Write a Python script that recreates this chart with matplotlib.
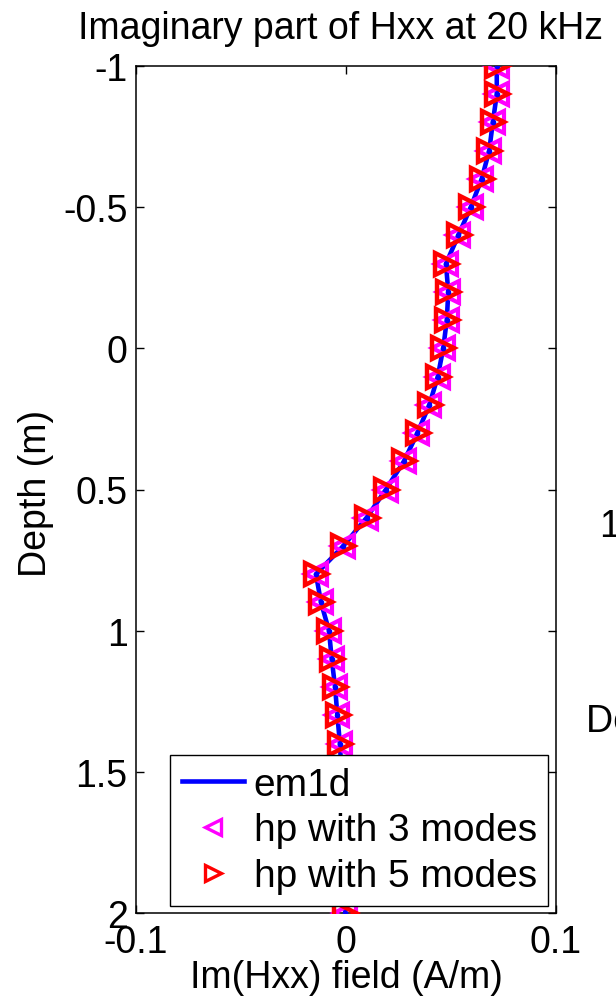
import matplotlib
matplotlib.use('Agg')
import matplotlib.pyplot as plt

plt.rcParams['font.family'] = ['Liberation Sans', 'DejaVu Sans']

# depth samples (m) and imaginary part of Hxx (A/m)
depth = [-1.0, -0.9, -0.8, -0.7, -0.6, -0.5, -0.4, -0.3, -0.2, -0.1,
         0.0, 0.1, 0.2, 0.3, 0.4, 0.5, 0.6, 0.7, 0.8, 0.9,
         1.0, 1.1, 1.2, 1.3, 1.4, 1.5, 1.6, 1.7, 1.8, 1.9, 2.0]
em1d = [0.0718, 0.0718, 0.0699, 0.0682, 0.0646, 0.0594, 0.0535, 0.0476, 0.0487, 0.0480,
        0.0463, 0.0437, 0.0397, 0.0340, 0.0276, 0.0190, 0.0098, -0.0013, -0.0143, -0.0119,
        -0.0081, -0.0068, -0.0052, -0.0041, -0.0029, -0.0022, -0.0016, -0.0012, -0.0009, -0.0006, -0.0004]
hp3 = [0.0717, 0.0717, 0.0698, 0.0681, 0.0645, 0.0593, 0.0534, 0.0475, 0.0486, 0.0479,
       0.0462, 0.0436, 0.0396, 0.0339, 0.0275, 0.0189, 0.0097, -0.0014, -0.0144, -0.0120,
       -0.0082, -0.0069, -0.0053, -0.0042, -0.0030, -0.0023, -0.0017, -0.0013, -0.0010, -0.0007, -0.0005]
hp5 = [0.0719, 0.0719, 0.0700, 0.0683, 0.0647, 0.0595, 0.0536, 0.0477, 0.0488, 0.0481,
       0.0464, 0.0438, 0.0398, 0.0341, 0.0277, 0.0191, 0.0099, -0.0012, -0.0142, -0.0118,
       -0.0080, -0.0067, -0.0051, -0.0040, -0.0028, -0.0021, -0.0015, -0.0011, -0.0008, -0.0005, -0.0003]

xticks = [-0.1, 0, 0.1]
xticklabels = ['-0.1', '0', '0.1']
yticks = [-1, -0.5, 0, 0.5, 1, 1.5, 2]
yticklabels = ['-1', '-0.5', '0', '0.5', '1', '1.5', '2']

fs = 27

fig = plt.figure(figsize=(6.16, 10.03), dpi=100)
ax = fig.add_axes([136/616, 1 - 914/1003, 420/616, 847/1003])

ax.plot(em1d, depth, color='blue', lw=3.3, label='em1d', zorder=2)
ax.plot(hp3, depth, ls='none', marker='<', ms=16, mfc='none', mec='magenta',
        mew=3, label='hp with 3 modes', zorder=3)
ax.plot(hp5, depth, ls='none', marker='>', ms=16, mfc='none', mec='red',
        mew=3.2, label='hp with 5 modes', zorder=4)
# the em1d line shows through the open markers as a dot
ax.plot(em1d, depth, ls='none', marker='o', ms=3, color='blue', zorder=5)

ax.set_xlim(-0.1, 0.1)
ax.set_ylim(2, -1)
ax.set_xticks(xticks)
ax.set_xticklabels(xticklabels)
ax.set_yticks(yticks)
ax.set_yticklabels(yticklabels)
ax.tick_params(direction='in', top=True, right=True, length=6, width=1,
               labelsize=fs)
ax.tick_params(axis='x', pad=8)
ax.tick_params(axis='y', pad=6)
for s in ax.spines.values():
    s.set_linewidth(1.1)

ax.set_title('Imaginary part of Hxx at 20 kHz', fontsize=fs, pad=20, x=0.487)
ax.set_xlabel('Im(Hxx) field (A/m)', fontsize=fs)
ax.set_ylabel('Depth (m)', fontsize=fs)
ax.xaxis.set_label_coords(0.5, -0.054)
ax.yaxis.set_label_coords(-0.195, 0.4965)

leg = ax.legend(loc='upper left', bbox_to_anchor=(0.081, 0.1865), fontsize=28,
                fancybox=False, framealpha=1, edgecolor='black',
                handlelength=1.6, handletextpad=0.25, borderpad=0.3,
                labelspacing=0.25, borderaxespad=0)
leg.get_frame().set_linewidth(1)
for h in leg.legend_handles[1:]:
    h.set_markersize(12)
    h.set_markeredgewidth(2.4)

# pieces of the neighbouring panel, cut off at the right edge
fig.text(599/616, 1 - 527/1003, '1', fontsize=fs, ha='left', va='center')
fig.text(586/616, 1 - 722/1003, 'Depth (m)', fontsize=fs, ha='left', va='center')

fig.savefig('out.png', dpi=100)
